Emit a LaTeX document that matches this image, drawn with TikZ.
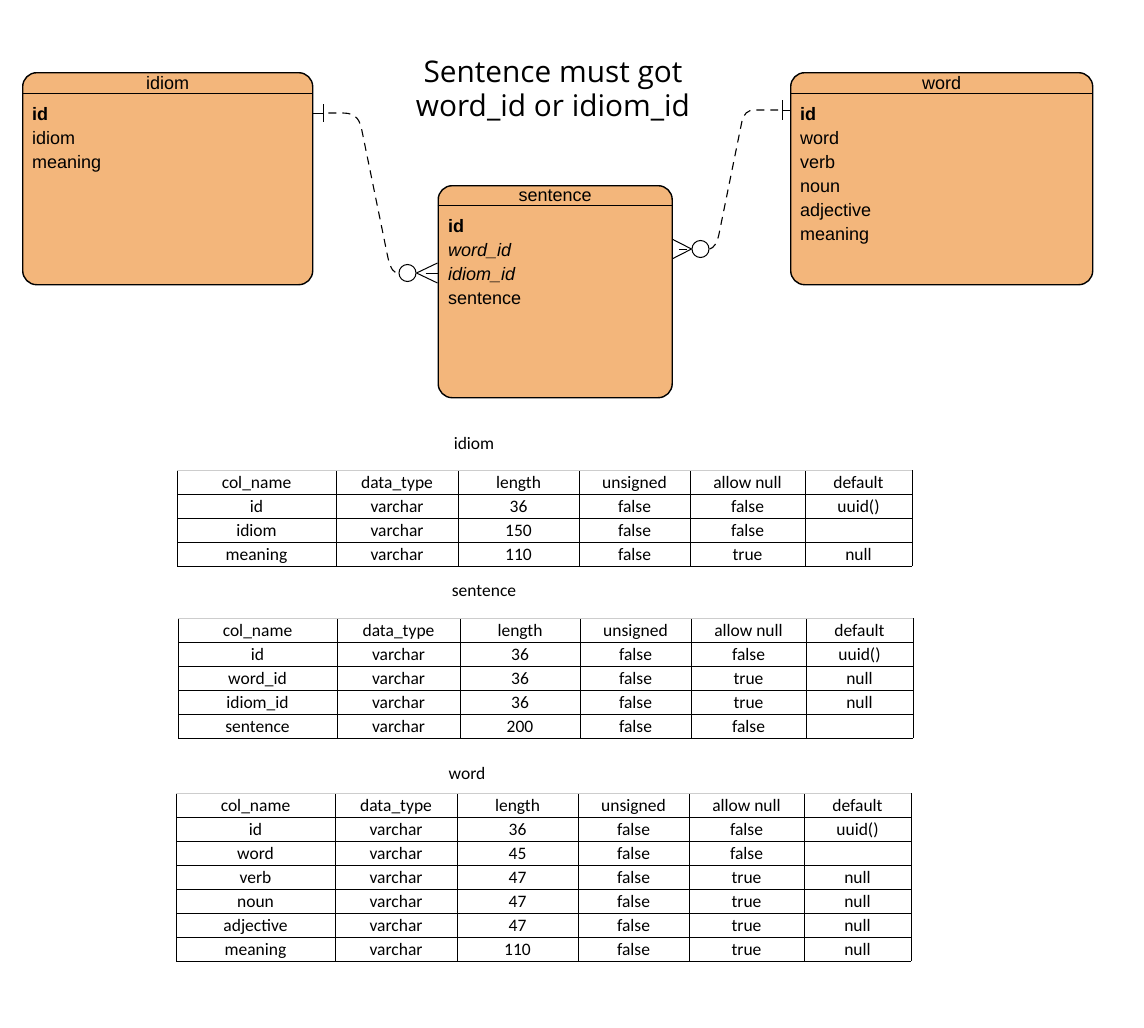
\documentclass[tikz,border=0pt]{standalone}
\usepackage{fontspec}
\setmainfont{Liberation Sans}
\newfontfamily\titlefont{Open Sans}
\newfontfamily\tabfont{Carlito}
\usetikzlibrary{calc}
\definecolor{entfill}{RGB}{243,182,123}
\definecolor{tabgray}{RGB}{205,205,205}

\newcommand\ertable[8]{%
  \pgfmathtruncatemacro\tbot{#6+24*#7}%
  \foreach \x in {#4} {\draw[tabline] (\x,#6) -- (\x,\tbot);}%
  \foreach \k in {1,...,#7} {\draw[tabline] (#2,#6+24*\k) -- (#3,#6+24*\k);}%
  \draw[tabline,draw=tabgray] (#2,#6) -- (#3,#6);%
  \def\tcx{#5}%
  \foreach \row [count=\r from 0] in {#8} {%
    \foreach \cell [count=\c from 0] in \row {%
      \pgfmathsetmacro\cx{\tcx[\c]}%
      \node[cell] (#1-\r-\c) at (\cx,#6+24*\r+18) {\cell};}}%
}

\begin{document}
\begin{tikzpicture}[x=1pt,y=-1pt,
  entity/.style={draw=black, line width=1.4pt, fill=entfill, rounded corners=14pt,
    inner sep=0pt, anchor=north west},
  attr/.style={anchor=base west, inner sep=0pt, font=\fontsize{18}{18}\selectfont},
  hdr/.style={anchor=base, inner sep=0pt, font=\fontsize{18}{18}\selectfont},
  erline/.style={draw=black, line width=1pt},
  erdash/.style={draw=black, line width=1.1pt, dash pattern=on 8pt off 6pt},
  ercircle/.style={circle, draw=black, line width=1pt, fill=white, minimum size=17pt, inner sep=0pt},
  ttl/.style={anchor=base, inner sep=0pt, font=\titlefont\fontsize{29.8}{29.8}\selectfont},
  tabline/.style={draw=black, line width=0.9pt},
  cell/.style={anchor=base, inner sep=0pt, font=\tabfont\fontsize{17.5}{17.5}\selectfont},
  tabtitle/.style={anchor=base, inner sep=0pt, font=\tabfont\fontsize{17.5}{17.5}\selectfont}
]
\fill[white] (0,0) rectangle (1144,1028);
\useasboundingbox (0,0) rectangle (1144,1028);

% ---------- title ----------
\node[ttl] (title1) at (553,82) {Sentence must got};
\node[ttl] (title2) at (553,116) {word\_id or idiom\_id};

% ---------- entities ----------
\node[entity, minimum width=290pt, minimum height=212pt] (idiom) at (22,72) {};
\draw[line width=1pt] ($(idiom.north west)+(0,21.5)$) -- ($(idiom.north east)+(0,21.5)$);
\node[hdr] (idiomT) at ($(idiom.north)+(0,17)$) {idiom};
\node[attr] (i1) at (32,120) {\bfseries id};
\node[attr] (i2) at (32,144) {idiom};
\node[attr] (i3) at (32,168) {meaning};

\node[entity, minimum width=234pt, minimum height=212pt] (sentence) at (437.5,185) {};
\draw[line width=1pt] ($(sentence.north west)+(0,20.5)$) -- ($(sentence.north east)+(0,20.5)$);
\node[hdr] (sentT) at ($(sentence.north)+(0,16)$) {sentence};
\node[attr] (s1) at (448,232) {\bfseries id};
\node[attr] (s2) at (448,256) {\itshape word\_id};
\node[attr] (s3) at (448,280) {\itshape idiom\_id};
\node[attr] (s4) at (448,304) {sentence};

\node[entity, minimum width=302pt, minimum height=212pt] (word) at (790,72) {};
\draw[line width=1pt] ($(word.north west)+(0,21.5)$) -- ($(word.north east)+(0,21.5)$);
\node[hdr] (wordT) at ($(word.north)+(0,17)$) {word};
\node[attr] (w1) at (800,120) {\bfseries id};
\node[attr] (w2) at (800,144) {word};
\node[attr] (w3) at (800,168) {verb};
\node[attr] (w4) at (800,192) {noun};
\node[attr] (w5) at (800,216) {adjective};
\node[attr] (w6) at (800,240) {meaning};

% ---------- connector idiom -> sentence ----------
\coordinate (y113) at (0,113);
\coordinate (y273) at (0,273);
\coordinate (A) at (idiom.east |- y113);
\coordinate (B) at (sentence.west |- y273);
\node[ercircle] (c1) at (407.5,273) {};
\draw[erline] (A) -- ++(10,0);
\draw[erline] ($(A)+(10,-9)$) -- ($(A)+(10,9)$);
\draw[erdash] ($(A)+(15,0)$) -- (343,113) .. controls (357,113) and (360,121) .. (362,131)
  -- (388,258) .. controls (391,270) and (394,273) .. (c1.west);
\draw[erline] (c1.east) -- ($(B)+(0,-10)$);
\draw[erline] (c1.east) -- ($(B)+(0,10)$);
\draw[erline] ($(B)+(-12,0)$) -- (B);

% ---------- connector sentence -> word ----------
\coordinate (y249) at (0,249);
\coordinate (y110) at (0,110);
\coordinate (C) at (sentence.east |- y249);
\coordinate (D) at (word.west |- y110);
\node[ercircle] (c2) at (700.5,249) {};
\draw[erline] ($(C)+(0,-9.5)$) -- (c2.west);
\draw[erline] ($(C)+(0,9.5)$) -- (c2.west);
\draw[erline] ($(C)+(6,0)$) -- ($(C)+(14,0)$);
\draw[erdash] (c2.east) .. controls (714,248) and (717,243) .. (719,234)
  -- (742,121) .. controls (744,114) and (747,110) .. (755,110) -- ($(D)+(-12,0)$);
\draw[erline] ($(D)+(-8,0)$) -- (D);
\draw[erline] ($(D)+(-8,-10)$) -- ($(D)+(-8,10)$);

% ---------- tables ----------
\node[tabtitle] (tt1) at (474,449) {idiom};
\ertable{ti}{177}{912}{177,336,458,579,690,805,912}{{256.5,397,518.5,634.5,747.5,858.5}}{470}{4}{%
  {col\_name,data\_type,length,unsigned,allow null,default},
  {id,varchar,36,false,false,uuid()},
  {idiom,varchar,150,false,false},
  {meaning,varchar,110,false,true,null}}

\node[tabtitle] (tt2) at (484,596) {sentence};
\ertable{ts}{178}{913}{178,337,460,580,691,806,913}{{257.5,398.5,520,635.5,748.5,859.5}}{618}{5}{%
  {col\_name,data\_type,length,unsigned,allow null,default},
  {id,varchar,36,false,false,uuid()},
  {word\_id,varchar,36,false,true,null},
  {idiom\_id,varchar,36,false,true,null},
  {sentence,varchar,200,false,false}}

\node[tabtitle] (tt3) at (467,779) {word};
\ertable{tw}{176}{911}{176,335,457,578,689,804,911}{{255.5,396,517.5,633.5,746.5,857.5}}{793}{7}{%
  {col\_name,data\_type,length,unsigned,allow null,default},
  {id,varchar,36,false,false,uuid()},
  {word,varchar,45,false,false},
  {verb,varchar,47,false,true,null},
  {noun,varchar,47,false,true,null},
  {adjective,varchar,47,false,true,null},
  {meaning,varchar,110,false,true,null}}

\end{tikzpicture}
\end{document}
